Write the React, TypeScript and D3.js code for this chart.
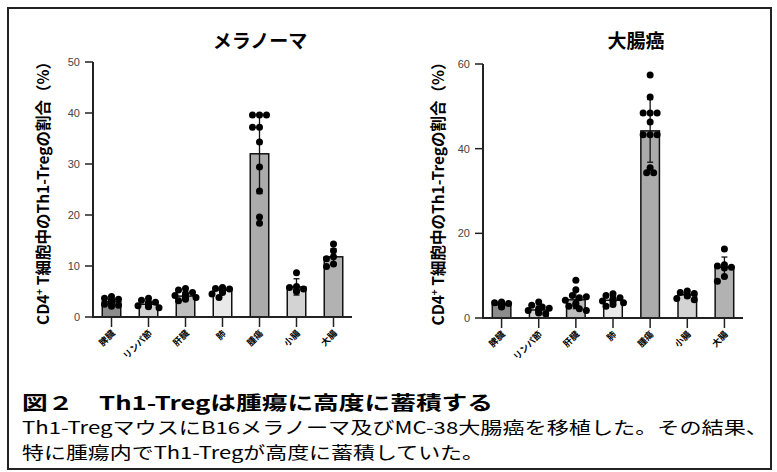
import React, { useEffect, useRef } from 'react';
import * as d3 from 'd3';

const categories = ['脾臓', 'リンパ節', '肝臓', '肺', '腫瘍', '小腸', '大腸'];

// メラノーマ
const melMeans = [3.0, 2.5, 4.1, 5.3, 32.0, 5.9, 11.8];
const melSD = [0.6, 0.6, 0.8, 0.6, 7.8, 1.6, 1.6];
const melPoints = [
  [4.0, 3.7, 3.5, 3.2, 3.0, 2.8, 2.5, 2.3, 2.1, 3.3],
  [3.7, 3.3, 2.9, 2.6, 2.4, 2.2, 2.0, 1.8, 2.3, 2.8],
  [5.6, 5.3, 4.8, 4.5, 4.2, 4.0, 3.8, 3.5, 3.2],
  [5.8, 5.6, 5.5, 5.3, 5.0, 4.8, 4.5, 3.8],
  [39.6, 39.6, 39.6, 37.2, 37.2, 34.3, 29.4, 24.7, 19.6, 18.4],
  [8.7, 6.0, 5.8, 5.5, 5.0, 5.2],
  [14.3, 13.0, 11.8, 11.4, 10.4, 9.9],
];

// 大腸癌
const crcMeans = [3.1, 1.9, 4.3, 4.2, 44.2, 5.5, 12.0];
const crcSD = [0.5, 0.9, 2.1, 0.9, 7.4, 0.7, 2.4];
const crcPoints = [
  [3.8, 3.6, 3.4, 3.2, 3.0, 2.8, 2.6, 3.5, 3.1, 2.9],
  [3.8, 3.0, 2.6, 2.3, 2.0, 1.8, 1.5, 1.2, 1.0, 2.2],
  [8.9, 6.7, 5.3, 4.8, 4.2, 3.5, 2.8, 2.2, 1.8, 5.0, 3.0],
  [5.7, 5.3, 4.8, 4.3, 4.0, 3.6, 3.2, 2.8, 4.5, 3.9],
  [57.4, 52.2, 48.4, 48.4, 48.4, 46.3, 43.3, 43.3, 43.3, 35.5, 34.3, 34.3],
  [6.4, 6.0, 5.8, 5.5, 5.2, 4.6, 4.3],
  [16.3, 12.6, 12.3, 12.0, 11.8, 9.8, 8.7],
];

const melTicks = [0, 10, 20, 30, 40, 50];
const crcTicks = [0, 20, 40, 60];

const barFills = ['#8c8c8c', '#d2d2d2', '#bebebe', '#e9e9e9', '#ababab', '#d3d3d3', '#b2b2b2'];

const JP = '"Noto Sans CJK JP", "Liberation Sans", sans-serif';
const AX = '"Liberation Sans", Arial, sans-serif';

const App = () => {
  const ref = useRef<SVGSVGElement>(null);

  useEffect(() => {
    const svg = d3.select(ref.current);
    svg.selectAll('*').remove();

    // outer frame
    svg.append('rect')
      .attr('x', 8).attr('y', 8).attr('width', 763).attr('height', 461)
      .attr('fill', 'white').attr('stroke', '#222').attr('stroke-width', 2);

    const drawPanel = (opts) => {
      const { left, right, zeroY, topY, max, ticks, title, titleX, labelX, means, sds, points } = opts;
      const g = svg.append('g');
      const y = d3.scaleLinear().domain([0, max]).range([zeroY, topY]);
      const x = d3.scaleBand().domain(categories).range([left, right]).paddingInner(0.5).paddingOuter(0.25);
      const r = 3.5;

      // title
      g.append('text')
        .attr('x', titleX).attr('y', 48)
        .attr('text-anchor', 'middle')
        .attr('font-family', JP).attr('font-weight', 'bold').attr('font-size', 19)
        .text(title);

      // y label
      const lbl = g.append('text')
        .attr('transform', `translate(${labelX}, ${(zeroY + 10 + 52) / 2}) rotate(-90)`)
        .attr('text-anchor', 'middle')
        .attr('font-family', JP).attr('font-weight', 'bold').attr('font-size', 15.5);
      lbl.append('tspan').text('CD4');
      lbl.append('tspan').attr('font-size', 10).attr('dy', -6).text('+');
      lbl.append('tspan').attr('dy', 6).text(' T細胞中のTh1-Tregの割合（%）');

      // bars
      categories.forEach((c, i) => {
        const cx = x(c) + x.bandwidth() / 2;
        g.append('rect')
          .attr('x', x(c)).attr('y', y(means[i]))
          .attr('width', x.bandwidth()).attr('height', zeroY - y(means[i]))
          .attr('fill', barFills[i]).attr('stroke', '#111').attr('stroke-width', 1.5);

        // error bar
        const lo = y(means[i] - sds[i]);
        const hi = y(means[i] + sds[i]);
        g.append('line').attr('x1', cx).attr('x2', cx).attr('y1', lo).attr('y2', hi)
          .attr('stroke', '#111').attr('stroke-width', 1.3);
        [lo, hi].forEach(v => {
          g.append('line').attr('x1', cx - 3).attr('x2', cx + 3).attr('y1', v).attr('y2', v)
            .attr('stroke', '#111').attr('stroke-width', 1.3);
        });

        // points, simple dodge so they don't stack on top of each other
        const placed = [];
        const offsets = [0, -3.5, 3.5, -7, 7, -10.5, 10.5];
        points[i].forEach(v => {
          const py = y(v);
          let best = offsets[0];
          for (const o of offsets) {
            const clash = placed.some(p => Math.hypot(p[0] - o, p[1] - py) < 2 * r * 0.85);
            if (!clash) { best = o; break; }
          }
          placed.push([best, py]);
          g.append('circle').attr('cx', cx + best).attr('cy', py).attr('r', r).attr('fill', '#000');
        });
      });

      // y axis
      g.append('line').attr('x1', left).attr('x2', left).attr('y1', zeroY).attr('y2', topY)
        .attr('stroke', '#222').attr('stroke-width', 2);
      ticks.forEach(t => {
        g.append('line').attr('x1', left - 8).attr('x2', left).attr('y1', y(t)).attr('y2', y(t))
          .attr('stroke', '#222').attr('stroke-width', 1.5);
        g.append('text').attr('x', left - 13).attr('y', y(t) + 4)
          .attr('text-anchor', 'end').attr('font-family', AX).attr('font-size', 11).attr('fill', '#444')
          .text(t);
      });

      // x axis
      g.append('line').attr('x1', left - 1).attr('x2', right).attr('y1', zeroY).attr('y2', zeroY)
        .attr('stroke', '#222').attr('stroke-width', 2);
      categories.forEach(c => {
        const cx = x(c) + x.bandwidth() / 2;
        g.append('line').attr('x1', cx).attr('x2', cx).attr('y1', zeroY).attr('y2', zeroY + 10)
          .attr('stroke', '#222').attr('stroke-width', 1.5);
        g.append('text')
          .attr('transform', `translate(${cx + 4}, ${zeroY + 17}) rotate(-45)`)
          .attr('text-anchor', 'end')
          .attr('font-family', JP).attr('font-weight', 'bold').attr('font-size', 9)
          .text(c);
      });
    };

    drawPanel({
      left: 93, right: 352, zeroY: 317, topY: 62, max: 50, ticks: melTicks,
      title: 'メラノーマ', titleX: 260, labelX: 49, means: melMeans, sds: melSD, points: melPoints,
    });
    drawPanel({
      left: 483, right: 743, zeroY: 318, topY: 64, max: 60, ticks: crcTicks,
      title: '大腸癌', titleX: 636, labelX: 444, means: crcMeans, sds: crcSD, points: crcPoints,
    });

    // caption
    svg.append('text')
      .attr('x', 22).attr('y', 410)
      .attr('font-family', JP).attr('font-weight', 'bold').attr('font-size', 19)
      .attr('textLength', 471).attr('lengthAdjust', 'spacingAndGlyphs')
      .text('図２　Th1-Tregは腫瘍に高度に蓄積する');
    svg.append('text')
      .attr('x', 22).attr('y', 434)
      .attr('font-family', JP).attr('font-size', 17)
      .attr('textLength', 746).attr('lengthAdjust', 'spacingAndGlyphs')
      .text('Th1-TregマウスにB16メラノーマ及びMC-38大腸癌を移植した。その結果、');
    svg.append('text')
      .attr('x', 22).attr('y', 459)
      .attr('font-family', JP).attr('font-size', 17)
      .attr('textLength', 462).attr('lengthAdjust', 'spacingAndGlyphs')
      .text('特に腫瘍内でTh1-Tregが高度に蓄積していた。');
  }, []);

  return (
    <svg ref={ref} width={777} height={472}
      style={{ position: 'absolute', left: 0, top: 0, background: 'white' }} />
  );
};

export default App;
